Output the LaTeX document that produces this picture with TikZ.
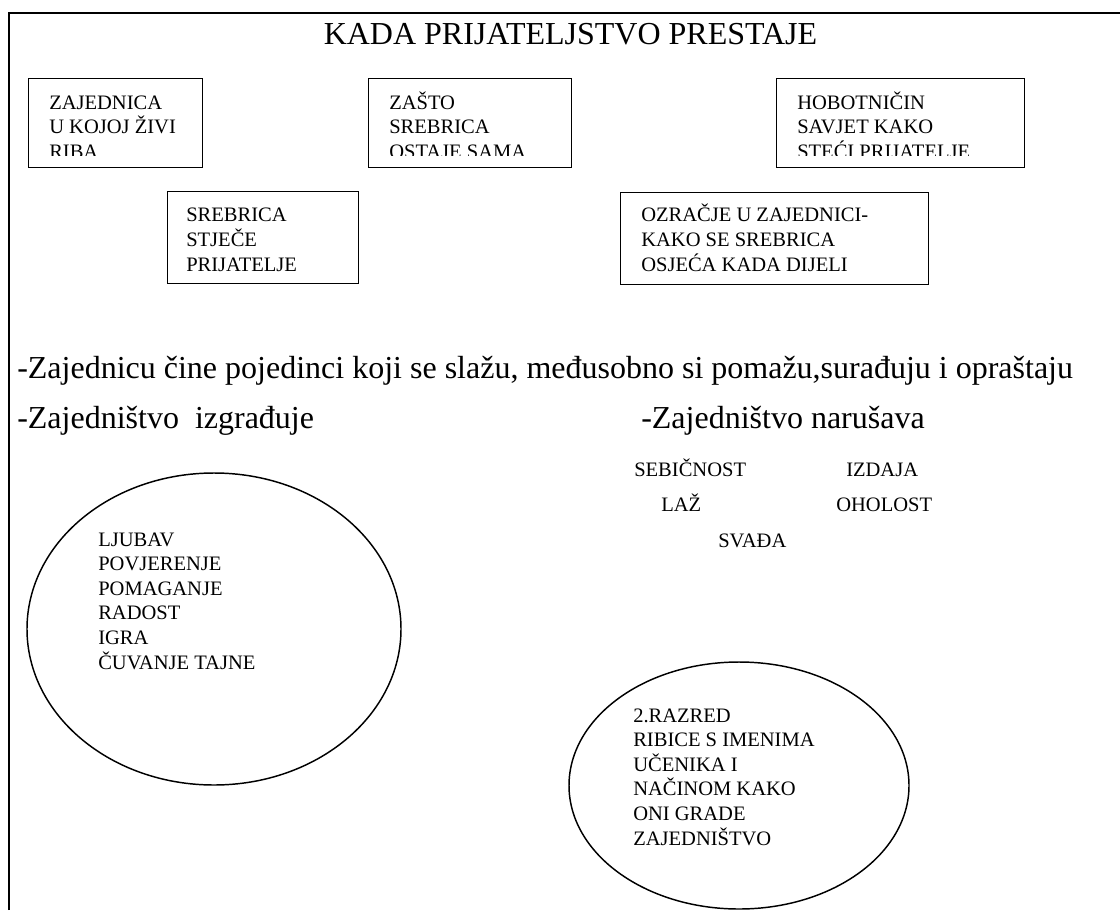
\documentclass[tikz,border=0pt]{standalone}
\usepackage{fontspec}
\setmainfont{Liberation Serif}
\usetikzlibrary{shapes.geometric}

\begin{document}
\begin{tikzpicture}[x=0.75pt,y=-0.75pt,
    okvir/.style={draw, line width=1.1pt, inner sep=0pt, anchor=north west, minimum height=66.75pt},
    krug/.style={draw, ellipse, line width=1.1pt, inner sep=0pt},
    popis/.style={anchor=base west, align=left, inner sep=0pt, font=\fontsize{15.4}{18.4}\selectfont},
    rijec/.style={anchor=base west, inner sep=0pt, font=\fontsize{15.4}{18.4}\selectfont},
    recenica/.style={anchor=base west, inner sep=0pt, font=\fontsize{24}{28}\selectfont}]

    \useasboundingbox (0,0) rectangle (1120,910);
    \draw[line width=1.5pt] (8.5,910) -- (8.5,13) -- (1120,13);

    \node[anchor=base, inner sep=0pt, font=\fontsize{24}{28}\selectfont] (naslov) at (570.5,44) {KADA PRIJATELJSTVO PRESTAJE};

    \node[okvir, minimum width=130.5pt] (zajednica) at (28,78) {};
    \node[okvir, minimum width=152.25pt] (zasto) at (368,78) {};
    \node[okvir, minimum width=186pt] (savjet) at (776,78) {};
    \node[okvir, minimum width=143.25pt, minimum height=69pt] (stjece) at (167,191) {};
    \node[okvir, minimum width=231pt, minimum height=69pt] (ozracje) at (620,192) {};

    \begin{scope}
        \clip (28,78) rectangle (1024,155.5);
        \node[popis] (zajednicaT) at (49,158.5) {ZAJEDNICA\\U KOJOJ ŽIVI\\RIBA};
        \node[popis] (zastoT) at (389,158.5) {ZAŠTO\\SREBRICA\\OSTAJE SAMA};
        \node[popis] (savjetT) at (797,158.5) {HOBOTNIČIN\\SAVJET KAKO\\STEĆI PRIJATELJE};
    \end{scope}
    \node[popis] (stjeceT) at (186,271) {SREBRICA\\STJEČE\\PRIJATELJE};
    \node[popis] (ozracjeT) at (641,271) {OZRAČJE U ZAJEDNICI-\\KAKO SE SREBRICA\\OSJEĆA KADA DIJELI};

    \node[recenica] (cine) at (17,378) {-Zajednicu čine pojedinci koji se slažu, međusobno si pomažu,surađuju i opraštaju};
    \node[recenica] (izgraduje) at (17,428) {-Zajedništvo\ \ izgrađuje};
    \node[recenica] (narusava) at (641,428) {-Zajedništvo narušava};

    \node[rijec] (sebicnost) at (634,476) {SEBIČNOST};
    \node[rijec] (izdaja) at (846,476) {IZDAJA};
    \node[rijec] (laz) at (661,511) {LAŽ};
    \node[rijec] (oholost) at (836,511) {OHOLOST};
    \node[rijec] (svada) at (718,547) {SVAĐA};

    \node[krug, minimum width=280.5pt, minimum height=234pt] (dobro) at (214,629) {};
    \node[popis] (dobroT) at (98,669) {LJUBAV\\POVJERENJE\\POMAGANJE\\RADOST\\IGRA\\ČUVANJE TAJNE};

    \node[krug, minimum width=255pt, minimum height=185.25pt] (razred) at (739,785.5) {};
    \node[popis] (razredT) at (633,845) {2.RAZRED\\RIBICE S IMENIMA\\UČENIKA I\\NAČINOM KAKO\\ONI GRADE\\ZAJEDNIŠTVO};
\end{tikzpicture}
\end{document}
